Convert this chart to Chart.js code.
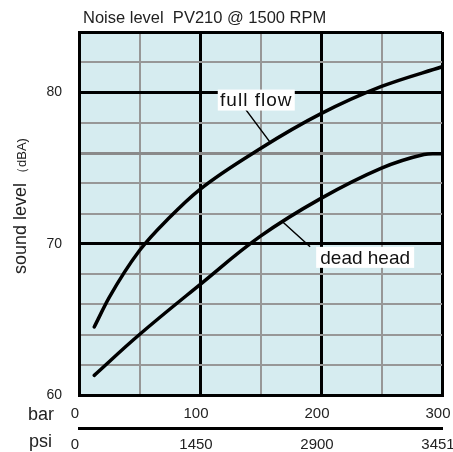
<!DOCTYPE html>
<html>
<head>
<meta charset="utf-8">
<script src="https://cdn.jsdelivr.net/npm/chart.js@4"></script>
<style>
  html, body { margin: 0; padding: 0; background: #fff; }
  #wrap { width: 453px; height: 452px; position: relative; }
</style>
</head>
<body>
<div id="wrap"><canvas id="noise"></canvas></div>
<script>
// Pressure axis ticks (bar) and the matching psi labels printed under them
var barTicks = [0, 100, 200, 300];
var psiTicks = ['0', '1450', '2900', '3451'];

// Sound level curves (x = bar, y = dBA)
var fullFlowBar = [12.6, 25, 50, 75, 100, 150, 200, 250, 300];
var fullFlowDb = [64.5, 66.45, 69.55, 71.75, 73.6, 76.3, 78.6, 80.4, 81.7];

var deadHeadBar = [12.6, 50, 100, 150, 200, 250, 285, 300];
var deadHeadDb = [61.3, 64, 67.3, 70.5, 73.0, 75.0, 75.9, 75.95];

var GRAY = '#979797';
var BLACK = '#000';
var FONT = '"Liberation Sans", Arial, sans-serif';

function toPoints(xs, ys) {
    return xs.map(function (x, i) { return {x: x, y: ys[i]}; });
}

// background, title, axis names and curve labels
var decorations = {
    id: 'decorations',
    beforeDraw: function (chart) {
        var a = chart.chartArea, c = chart.ctx;
        c.save();
        c.fillStyle = '#d6ecf0';
        c.fillRect(a.left, a.top, a.right - a.left, a.bottom - a.top);
        c.restore();
    },
    afterDraw: function (chart) {
        var c = chart.ctx, a = chart.chartArea;
        var xs = chart.scales.x, ys = chart.scales.y;
        c.save();
        c.fillStyle = '#222';
        c.textBaseline = 'alphabetic';
        c.textAlign = 'left';

        // title
        c.font = '16.5px ' + FONT;
        c.fillText('Noise level  PV210 @ 1500 RPM', a.left + 4, 23);

        // y axis title, rotated
        c.save();
        c.translate(26, 274);
        c.rotate(-Math.PI / 2);
        c.font = '18px ' + FONT;
        c.fillText('sound level', 0, 0);
        c.font = '13px ' + FONT;
        c.fillText('（dBA)', 94, 0);
        c.restore();

        // unit names beside the two bottom axes
        c.font = '18px ' + FONT;
        c.fillText('bar', 28, 420);
        c.fillText('psi', 29, 447);

        // curve labels with leader lines
        c.strokeStyle = BLACK;
        c.lineWidth = 1.5;
        c.beginPath();
        c.moveTo(xs.getPixelForValue(138), ys.getPixelForValue(78.85));
        c.lineTo(xs.getPixelForValue(158), ys.getPixelForValue(76.7));
        c.moveTo(xs.getPixelForValue(167.5), ys.getPixelForValue(71.5));
        c.lineTo(xs.getPixelForValue(191), ys.getPixelForValue(69.8));
        c.stroke();

        c.font = '19px ' + FONT;
        c.textAlign = 'center';
        c.textBaseline = 'middle';
        var labels = [
            {text: 'full flow', x: 146.5, y: 79.5, w: 77, spacing: '1px'},
            {text: 'dead head', x: 236.5, y: 69.1, w: 98, spacing: '0px'}
        ];
        labels.forEach(function (l) {
            var px = xs.getPixelForValue(l.x), py = ys.getPixelForValue(l.y);
            c.fillStyle = '#fff';
            c.fillRect(px - l.w / 2, py - 10.5, l.w, 21);
            c.fillStyle = '#111';
            c.letterSpacing = l.spacing;
            c.fillText(l.text, px, py + 1);
        });
        c.restore();
    }
};

var ctx = document.getElementById('noise').getContext('2d');

var chart = new Chart(ctx, {
    type: 'line',
    data: {
        datasets: [{
            label: 'full flow',
            data: toPoints(fullFlowBar, fullFlowDb),
            borderColor: BLACK,
            borderWidth: 3.5,
            borderCapStyle: 'round',
            pointRadius: 0,
            cubicInterpolationMode: 'monotone',
            fill: false
        }, {
            label: 'dead head',
            data: toPoints(deadHeadBar, deadHeadDb),
            borderColor: BLACK,
            borderWidth: 3.5,
            borderCapStyle: 'round',
            pointRadius: 0,
            tension: 0.4,
            fill: false
        }]
    },
    options: {
        responsive: true,
        maintainAspectRatio: false,
        animation: false,
        layout: {padding: {top: 32, right: 11, left: 0, bottom: 0}},
        plugins: {legend: {display: false}, tooltip: {enabled: false}, title: {display: false}},
        scales: {
            x: {
                type: 'linear',
                position: 'bottom',
                weight: 0,
                min: 0,
                max: 300,
                ticks: {
                    stepSize: 50,
                    autoSkip: false,
                    maxRotation: 0,
                    padding: 10,
                    labelOffset: -4,
                    color: '#222',
                    font: {family: FONT, size: 15},
                    callback: function (v) { return barTicks.indexOf(v) >= 0 ? String(v) : ''; }
                },
                grid: {
                    drawTicks: false,
                    color: function (c) { return c.tick && c.tick.value % 100 === 0 ? BLACK : GRAY; },
                    lineWidth: function (c) { return c.tick && c.tick.value % 100 === 0 ? 3 : 2; }
                },
                border: {display: true, color: BLACK, width: 3},
                afterFit: function (s) { s.height = 33; s.paddingLeft = 0; s.paddingRight = 0; }
            },
            x2: {
                type: 'linear',
                position: 'bottom',
                weight: 1,
                min: 0,
                max: 300,
                afterBuildTicks: function (s) { s.ticks = barTicks.map(function (v) { return {value: v}; }); },
                ticks: {
                    autoSkip: false,
                    maxRotation: 0,
                    padding: 8,
                    labelOffset: -4,
                    color: '#222',
                    font: {family: FONT, size: 15},
                    callback: function (v) { return psiTicks[barTicks.indexOf(v)]; }
                },
                grid: {display: false, drawTicks: false},
                border: {display: true, color: BLACK, width: 3},
                afterFit: function (s) { s.height = 24; s.paddingLeft = 0; s.paddingRight = 0; }
            },
            y: {
                type: 'linear',
                min: 60,
                max: 84,
                ticks: {
                    stepSize: 2,
                    autoSkip: false,
                    padding: 17,
                    color: '#222',
                    font: {family: FONT, size: 14},
                    callback: function (v) { return v % 10 === 0 ? String(v) : ''; }
                },
                grid: {
                    drawTicks: false,
                    color: function (c) {
                        if (!c.tick) return GRAY;
                        var v = c.tick.value;
                        return (v % 10 === 0 || v === 84) ? BLACK : (v === 76 ? '#8a8a8a' : GRAY);
                    },
                    lineWidth: function (c) {
                        if (!c.tick) return 2;
                        var v = c.tick.value;
                        return (v % 10 === 0 || v === 84 || v === 76) ? 3 : 2;
                    }
                },
                border: {display: true, color: BLACK, width: 3},
                afterFit: function (s) { s.width = 79; s.paddingTop = 0; s.paddingBottom = 0; }
            }
        }
    },
    plugins: [decorations]
});
</script>
</body>
</html>
